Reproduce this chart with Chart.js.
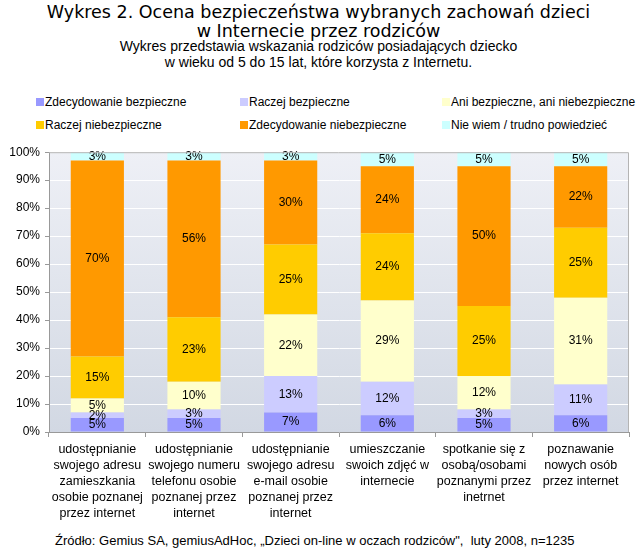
<!DOCTYPE html>
<html>
<head>
<meta charset="utf-8">
<script src="https://cdn.jsdelivr.net/npm/chart.js@4"></script>
<style>
  body { margin: 0; background: #fff; width: 637px; height: 555px; overflow: hidden; position: relative; font-family: "Liberation Sans", Arial, sans-serif; }
  #title { position: absolute; top: 3px; left: 0; width: 637px; text-align: center; font-family: "DejaVu Sans", Verdana, sans-serif; font-size: 17.5px; line-height: 19px; color: #000; }
  #subtitle { position: absolute; top: 38px; left: 0; width: 637px; text-align: center; font-size: 14px; line-height: 16px; color: #000; }
  .leg { position: absolute; font-size: 12px; line-height: 14px; color: #000; white-space: nowrap; }
  .leg span { position: absolute; left: 0; top: 3px; width: 8px; height: 8px; }
  .leg b { font-weight: normal; position: absolute; left: 9px; top: 0; }
  #wrap { position: absolute; left: 0; top: 140px; width: 637px; height: 385px; }
  #source { position: absolute; top: 533px; left: 55px; font-size: 13px; color: #000; white-space: nowrap; }
</style>
</head>
<body>
<div id="title">Wykres 2. Ocena bezpieczeństwa wybranych zachowań dzieci<br>w Internecie przez rodziców</div>
<div id="subtitle">Wykres przedstawia wskazania rodziców posiadających dziecko<br>w wieku od 5 do 15 lat, które korzysta z Internetu.</div>
<div id="legend"></div>
<div id="wrap"><canvas id="chart"></canvas></div>
<div id="source">Źródło: Gemius SA, gemiusAdHoc, „Dzieci on-line w oczach rodziców",&nbsp;&nbsp;luty 2008, n=1235</div>
<script>
const categories = [
  ['udostępnianie', 'swojego adresu', 'zamieszkania', 'osobie poznanej', 'przez internet'],
  ['udostępnianie', 'swojego numeru', 'telefonu osobie', 'poznanej przez', 'internet'],
  ['udostępnianie', 'swojego adresu', 'e-mail osobie', 'poznanej przez', 'internet'],
  ['umieszczanie', 'swoich zdjęć w', 'internecie'],
  ['spotkanie się z', 'osobą/osobami', 'poznanymi przez', 'inetrnet'],
  ['poznawanie', 'nowych osób', 'przez internet']
];
const seriesNames = [
  'Zdecydowanie bezpieczne',
  'Raczej bezpieczne',
  'Ani bezpieczne, ani niebezpieczne',
  'Raczej niebezpieczne',
  'Zdecydowanie niebezpieczne',
  'Nie wiem / trudno powiedzieć'
];
const zdecBezp = [5, 5, 7, 6, 5, 6];
const raczejBezp = [2, 3, 13, 12, 3, 11];
const ani = [5, 10, 22, 29, 12, 31];
const raczejNiebezp = [15, 23, 25, 24, 25, 25];
const zdecNiebezp = [70, 56, 30, 24, 50, 22];
const nieWiem = [3, 3, 3, 5, 5, 5];
const yTicks = [0, 10, 20, 30, 40, 50, 60, 70, 80, 90, 100];

const colors = ['#9999ff', '#ccccff', '#ffffcc', '#ffcc00', '#ff9900', '#ccffff'];
const values = [zdecBezp, raczejBezp, ani, raczejNiebezp, zdecNiebezp, nieWiem];

// html legend in 3 columns
const legX = [36, 240, 442];
const legY = [95, 118];
const legend = document.getElementById('legend');
seriesNames.forEach((name, i) => {
  const d = document.createElement('div');
  d.className = 'leg';
  d.style.left = legX[i % 3] + 'px';
  d.style.top = legY[Math.floor(i / 3)] + 'px';
  d.innerHTML = '<span style="background:' + colors[i] + '"></span><b>' + name + '</b>';
  legend.appendChild(d);
});

const plotBg = {
  id: 'plotBg',
  beforeDraw(chart) {
    const a = chart.chartArea, c = chart.ctx;
    const g = c.createLinearGradient(0, a.top, 0, a.bottom);
    g.addColorStop(0, '#eef0f6');
    g.addColorStop(1, '#d2d8e3');
    c.save();
    c.fillStyle = g;
    c.fillRect(a.left, a.top, a.right - a.left, a.bottom - a.top);
    c.restore();
  },
  afterDraw(chart) {
    const a = chart.chartArea, c = chart.ctx;
    c.save();
    c.strokeStyle = '#b4b4b4';
    c.lineWidth = 1;
    c.beginPath();
    c.moveTo(a.left, a.top + 0.5);
    c.lineTo(a.right - 0.5, a.top + 0.5);
    c.lineTo(a.right - 0.5, a.bottom);
    c.stroke();
    c.restore();
  }
};

const valueLabels = {
  id: 'valueLabels',
  afterDatasetsDraw(chart) {
    const c = chart.ctx;
    c.save();
    c.font = '12px "Liberation Sans", Arial, sans-serif';
    c.fillStyle = '#000';
    c.textAlign = 'center';
    c.textBaseline = 'middle';
    chart.data.datasets.forEach((ds, i) => {
      chart.getDatasetMeta(i).data.forEach((bar, j) => {
        c.fillText(ds.data[j] + '%', bar.x, (bar.y + bar.base) / 2);
      });
    });
    c.restore();
  }
};

new Chart(document.getElementById('chart'), {
  type: 'bar',
  data: {
    labels: categories,
    datasets: seriesNames.map((name, i) => ({
      label: name,
      data: values[i],
      backgroundColor: colors[i],
      borderWidth: 0,
      barPercentage: 0.55,
      categoryPercentage: 1
    }))
  },
  options: {
    responsive: true,
    maintainAspectRatio: false,
    animation: false,
    layout: { padding: { top: 12, right: 8, left: 0, bottom: 0 } },
    plugins: { legend: { display: false }, tooltip: { enabled: false } },
    scales: {
      x: {
        stacked: true,
        afterFit(scale) { scale.height = 93; },
        grid: { display: true, drawOnChartArea: false, offset: true, tickColor: '#999', tickLength: 5 },
        border: { color: '#999' },
        ticks: {
          color: '#000',
          padding: 5,
          maxRotation: 0,
          autoSkip: false,
          font: { family: '"Liberation Sans", Arial, sans-serif', size: 12.5, lineHeight: 1.28 }
        }
      },
      y: {
        stacked: true,
        min: 0,
        max: 100,
        afterFit(scale) { scale.width = 49; },
        afterBuildTicks(scale) { scale.ticks = yTicks.map(v => ({ value: v })); },
        grid: { color: '#ffffff', tickColor: '#999', tickLength: 4 },
        border: { color: '#999' },
        ticks: {
          color: '#000',
          padding: 5,
          callback: v => v + '%',
          font: { family: '"Liberation Sans", Arial, sans-serif', size: 12 }
        }
      }
    }
  },
  plugins: [plotBg, valueLabels]
});
</script>
</body>
</html>
